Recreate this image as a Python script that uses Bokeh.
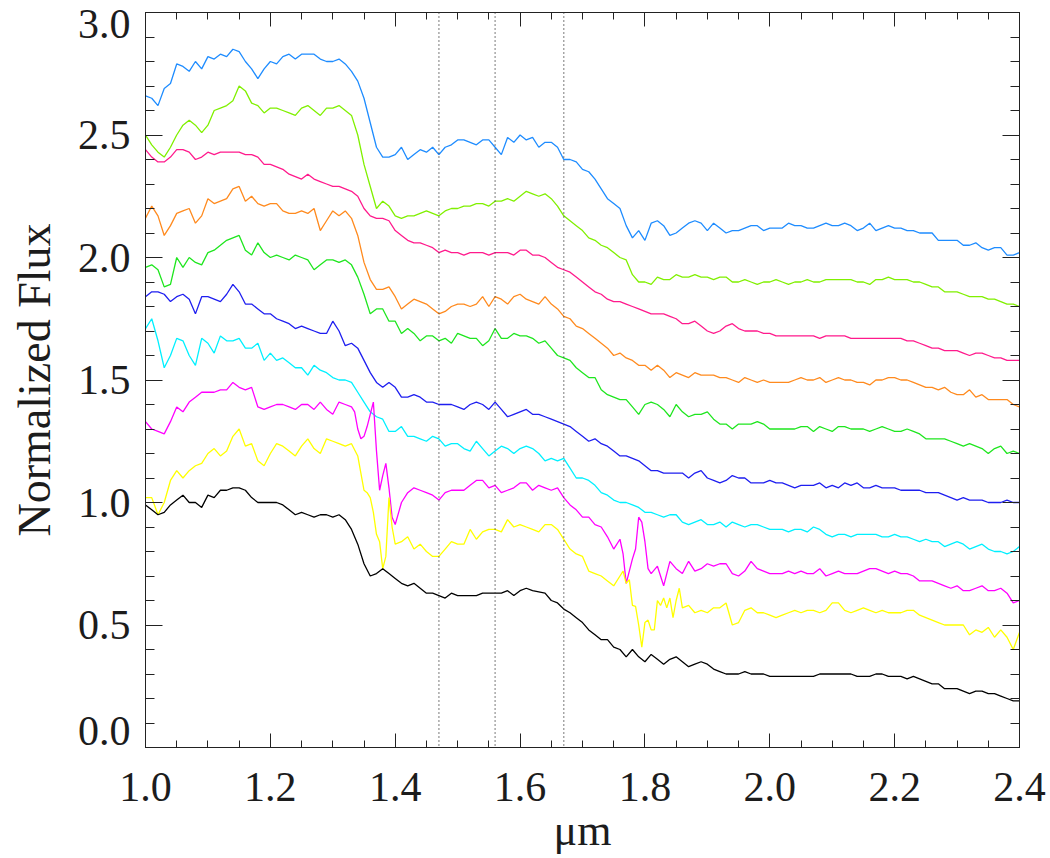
from bokeh.plotting import figure
from bokeh.models import (LinearAxis, FixedTicker, Span, Range1d,
                          ColumnDataSource, NumeralTickFormatter)
from bokeh.embed import file_html
from bokeh.resources import INLINE

# ---------------- data ----------------
wavelength = [round(1.0 + 0.01 * i, 2) for i in range(141)]

flux_dodgerblue = [
    2.66, 2.65, 2.62, 2.69, 2.71, 2.79, 2.78, 2.76, 2.80, 2.77,
    2.82, 2.81, 2.83, 2.82, 2.85, 2.84, 2.80, 2.77, 2.73, 2.77,
    2.80, 2.79, 2.82, 2.83, 2.81, 2.83, 2.83, 2.83, 2.81, 2.80,
    2.80, 2.81, 2.79, 2.76, 2.72, 2.65, 2.55, 2.45, 2.41, 2.41,
    2.42, 2.45, 2.40, 2.42, 2.44, 2.43, 2.45, 2.42, 2.45, 2.46,
    2.48, 2.48, 2.47, 2.46, 2.48, 2.48, 2.45, 2.42, 2.49, 2.47,
    2.50, 2.48, 2.49, 2.45, 2.47, 2.47, 2.45, 2.40, 2.40, 2.39,
    2.36, 2.35, 2.32, 2.28, 2.24, 2.22, 2.20, 2.13, 2.08, 2.11,
    2.07, 2.14, 2.15, 2.13, 2.09, 2.10, 2.12, 2.14, 2.15, 2.14,
    2.11, 2.14, 2.12, 2.10, 2.11, 2.11, 2.12, 2.13, 2.13, 2.11,
    2.12, 2.12, 2.12, 2.14, 2.13, 2.13, 2.12, 2.12, 2.13, 2.14,
    2.13, 2.13, 2.14, 2.13, 2.11, 2.12, 2.14, 2.11, 2.12, 2.13,
    2.12, 2.12, 2.11, 2.11, 2.10, 2.10, 2.10, 2.07, 2.07, 2.07,
    2.07, 2.05, 2.05, 2.06, 2.04, 2.03, 2.04, 2.04, 2.01, 2.01,
    2.02]

flux_chartreuse = [
    2.50, 2.46, 2.43, 2.41, 2.45, 2.50, 2.54, 2.56, 2.54, 2.51,
    2.54, 2.60, 2.61, 2.62, 2.64, 2.70, 2.68, 2.63, 2.62, 2.59,
    2.61, 2.61, 2.60, 2.59, 2.58, 2.61, 2.62, 2.60, 2.58, 2.61,
    2.61, 2.62, 2.60, 2.58, 2.50, 2.38, 2.29, 2.20, 2.23, 2.21,
    2.17, 2.16, 2.17, 2.17, 2.18, 2.19, 2.18, 2.17, 2.19, 2.20,
    2.20, 2.21, 2.21, 2.22, 2.22, 2.21, 2.23, 2.23, 2.24, 2.23,
    2.25, 2.27, 2.26, 2.25, 2.26, 2.24, 2.21, 2.17, 2.15, 2.13,
    2.11, 2.08, 2.07, 2.05, 2.04, 2.02, 2.00, 1.99, 1.93, 1.90,
    1.90, 1.89, 1.92, 1.91, 1.91, 1.93, 1.92, 1.92, 1.93, 1.92,
    1.92, 1.91, 1.92, 1.92, 1.90, 1.90, 1.91, 1.90, 1.89, 1.90,
    1.90, 1.91, 1.90, 1.89, 1.90, 1.90, 1.91, 1.90, 1.90, 1.91,
    1.91, 1.91, 1.91, 1.91, 1.90, 1.90, 1.89, 1.91, 1.91, 1.92,
    1.91, 1.91, 1.91, 1.90, 1.90, 1.89, 1.88, 1.88, 1.86, 1.86,
    1.86, 1.85, 1.84, 1.84, 1.84, 1.83, 1.83, 1.82, 1.81, 1.81,
    1.80]

flux_deeppink = [
    2.44, 2.41, 2.39, 2.39, 2.41, 2.44, 2.44, 2.43, 2.40, 2.41,
    2.43, 2.42, 2.43, 2.43, 2.43, 2.43, 2.42, 2.42, 2.41, 2.38,
    2.38, 2.37, 2.36, 2.34, 2.33, 2.32, 2.34, 2.32, 2.31, 2.30,
    2.29, 2.29, 2.28, 2.27, 2.25, 2.20, 2.17, 2.16, 2.16, 2.15,
    2.11, 2.09, 2.07, 2.06, 2.06, 2.05, 2.04, 2.02, 2.03, 2.02,
    2.02, 2.01, 2.02, 2.02, 2.02, 2.01, 2.02, 2.02, 2.02, 2.01,
    2.03, 2.03, 2.01, 2.01, 2.00, 1.98, 1.96, 1.95, 1.94, 1.92,
    1.90, 1.88, 1.86, 1.85, 1.83, 1.82, 1.82, 1.81, 1.80, 1.79,
    1.78, 1.77, 1.77, 1.77, 1.76, 1.75, 1.73, 1.73, 1.74, 1.72,
    1.70, 1.69, 1.70, 1.72, 1.73, 1.71, 1.70, 1.70, 1.70, 1.69,
    1.69, 1.68, 1.68, 1.68, 1.68, 1.68, 1.68, 1.68, 1.67, 1.68,
    1.68, 1.68, 1.68, 1.67, 1.67, 1.67, 1.67, 1.67, 1.67, 1.67,
    1.67, 1.67, 1.66, 1.66, 1.65, 1.64, 1.63, 1.63, 1.62, 1.62,
    1.62, 1.61, 1.60, 1.61, 1.61, 1.60, 1.59, 1.59, 1.58, 1.58,
    1.58]

flux_orange = [
    2.16, 2.21, 2.17, 2.09, 2.13, 2.18, 2.19, 2.20, 2.14, 2.17,
    2.24, 2.22, 2.23, 2.24, 2.28, 2.29, 2.23, 2.25, 2.22, 2.21,
    2.22, 2.22, 2.19, 2.18, 2.18, 2.19, 2.18, 2.20, 2.11, 2.15,
    2.19, 2.17, 2.19, 2.16, 2.09, 1.98, 1.91, 1.87, 1.87, 1.88,
    1.84, 1.79, 1.81, 1.83, 1.82, 1.81, 1.79, 1.77, 1.78, 1.80,
    1.81, 1.81, 1.80, 1.81, 1.84, 1.80, 1.84, 1.83, 1.81, 1.84,
    1.85, 1.83, 1.82, 1.81, 1.84, 1.81, 1.79, 1.76, 1.75, 1.72,
    1.71, 1.69, 1.67, 1.65, 1.63, 1.60, 1.61, 1.59, 1.58, 1.56,
    1.56, 1.54, 1.56, 1.54, 1.51, 1.53, 1.52, 1.51, 1.53, 1.52,
    1.52, 1.52, 1.51, 1.51, 1.50, 1.49, 1.51, 1.50, 1.49, 1.50,
    1.49, 1.49, 1.49, 1.49, 1.50, 1.51, 1.50, 1.50, 1.51, 1.49,
    1.50, 1.51, 1.50, 1.50, 1.49, 1.49, 1.48, 1.50, 1.50, 1.51,
    1.51, 1.50, 1.50, 1.49, 1.48, 1.47, 1.47, 1.46, 1.47, 1.45,
    1.44, 1.44, 1.46, 1.43, 1.44, 1.42, 1.42, 1.42, 1.42, 1.40,
    1.39]

flux_green = [
    1.96, 1.97, 1.95, 1.88, 1.89, 2.00, 1.96, 2.00, 1.98, 1.97,
    2.02, 2.03, 2.05, 2.07, 2.08, 2.09, 2.03, 2.01, 2.06, 2.02,
    2.00, 2.01, 2.00, 1.99, 2.01, 2.00, 1.99, 1.95, 1.97, 1.99,
    1.99, 1.98, 1.99, 1.97, 1.92, 1.85, 1.77, 1.79, 1.79, 1.74,
    1.74, 1.69, 1.71, 1.69, 1.66, 1.68, 1.68, 1.66, 1.67, 1.65,
    1.69, 1.68, 1.67, 1.67, 1.64, 1.66, 1.71, 1.67, 1.67, 1.69,
    1.68, 1.68, 1.67, 1.65, 1.66, 1.63, 1.60, 1.59, 1.58, 1.55,
    1.53, 1.51, 1.51, 1.46, 1.44, 1.43, 1.42, 1.42, 1.39, 1.36,
    1.40, 1.41, 1.40, 1.38, 1.35, 1.40, 1.37, 1.35, 1.36, 1.36,
    1.37, 1.34, 1.32, 1.32, 1.30, 1.32, 1.32, 1.32, 1.33, 1.32,
    1.30, 1.30, 1.30, 1.30, 1.30, 1.31, 1.31, 1.29, 1.31, 1.30,
    1.29, 1.31, 1.31, 1.30, 1.30, 1.30, 1.29, 1.30, 1.31, 1.30,
    1.29, 1.29, 1.30, 1.29, 1.28, 1.26, 1.26, 1.26, 1.26, 1.25,
    1.24, 1.23, 1.24, 1.23, 1.22, 1.20, 1.22, 1.23, 1.20, 1.21,
    1.20]

flux_blue = [
    1.84, 1.86, 1.86, 1.85, 1.82, 1.84, 1.85, 1.83, 1.77, 1.84,
    1.84, 1.83, 1.82, 1.85, 1.89, 1.86, 1.81, 1.81, 1.79, 1.77,
    1.77, 1.75, 1.74, 1.73, 1.71, 1.72, 1.71, 1.70, 1.69, 1.69,
    1.74, 1.70, 1.64, 1.65, 1.63, 1.58, 1.53, 1.49, 1.47, 1.49,
    1.47, 1.43, 1.43, 1.44, 1.43, 1.41, 1.41, 1.40, 1.40, 1.40,
    1.39, 1.38, 1.40, 1.41, 1.40, 1.38, 1.41, 1.38, 1.35, 1.36,
    1.37, 1.38, 1.36, 1.36, 1.35, 1.34, 1.33, 1.32, 1.31, 1.29,
    1.27, 1.25, 1.26, 1.24, 1.23, 1.21, 1.19, 1.19, 1.18, 1.17,
    1.15, 1.13, 1.13, 1.12, 1.12, 1.12, 1.12, 1.10, 1.12, 1.13,
    1.10, 1.09, 1.08, 1.09, 1.11, 1.10, 1.10, 1.08, 1.08, 1.08,
    1.09, 1.08, 1.08, 1.07, 1.06, 1.07, 1.07, 1.07, 1.08, 1.06,
    1.07, 1.06, 1.08, 1.07, 1.08, 1.06, 1.06, 1.07, 1.06, 1.06,
    1.06, 1.05, 1.05, 1.05, 1.05, 1.04, 1.04, 1.04, 1.03, 1.02,
    1.01, 1.02, 1.01, 1.01, 1.01, 1.00, 1.00, 1.00, 1.01, 1.00,
    1.00]

flux_cyan = [
    1.71, 1.75, 1.66, 1.55, 1.60, 1.67, 1.66, 1.60, 1.56, 1.67,
    1.65, 1.61, 1.68, 1.66, 1.66, 1.67, 1.63, 1.63, 1.65, 1.58,
    1.61, 1.58, 1.59, 1.57, 1.55, 1.55, 1.52, 1.56, 1.54, 1.53,
    1.51, 1.50, 1.50, 1.49, 1.45, 1.41, 1.37, 1.35, 1.34, 1.29,
    1.29, 1.31, 1.27, 1.27, 1.26, 1.25, 1.27, 1.26, 1.23, 1.24,
    1.24, 1.22, 1.21, 1.25, 1.22, 1.19, 1.21, 1.23, 1.22, 1.20,
    1.22, 1.23, 1.22, 1.20, 1.17, 1.18, 1.17, 1.18, 1.14, 1.10,
    1.10, 1.09, 1.07, 1.04, 1.03, 1.01, 1.00, 1.00, 0.99, 0.98,
    0.96, 0.96, 0.95, 0.94, 0.95, 0.95, 0.92, 0.91, 0.92, 0.93,
    0.91, 0.91, 0.92, 0.90, 0.92, 0.91, 0.90, 0.91, 0.91, 0.90,
    0.89, 0.89, 0.89, 0.88, 0.89, 0.89, 0.88, 0.90, 0.89, 0.87,
    0.86, 0.87, 0.87, 0.86, 0.87, 0.87, 0.87, 0.87, 0.86, 0.86,
    0.87, 0.86, 0.86, 0.85, 0.84, 0.85, 0.84, 0.84, 0.82, 0.83,
    0.84, 0.83, 0.81, 0.82, 0.83, 0.81, 0.80, 0.80, 0.79, 0.80,
    0.82]

flux_magenta = [
    1.33, 1.30, 1.29, 1.28, 1.33, 1.39, 1.37, 1.41, 1.43, 1.45,
    1.45, 1.45, 1.46, 1.46, 1.49, 1.47, 1.46, 1.47, 1.39, 1.38,
    1.39, 1.40, 1.40, 1.39, 1.38, 1.40, 1.40, 1.38, 1.41, 1.38,
    1.36, 1.41, 1.40, 1.39, 1.30, 1.27, 1.36, 1.21, 1.11, 1.06,
    0.91, 1.00, 1.04, 1.06, 1.05, 1.04, 1.03, 1.01, 1.04, 1.05,
    1.05, 1.05, 1.07, 1.09, 1.09, 1.06, 1.07, 1.04, 1.05, 1.06,
    1.08, 1.08, 1.05, 1.07, 1.06, 1.05, 1.06, 1.02, 0.99, 0.97,
    0.94, 0.94, 0.91, 0.90, 0.86, 0.81, 0.85, 0.67, 0.77, 0.94,
    0.84, 0.71, 0.74, 0.66, 0.76, 0.73, 0.71, 0.76, 0.72, 0.73,
    0.75, 0.74, 0.75, 0.75, 0.71, 0.70, 0.72, 0.76, 0.73, 0.72,
    0.71, 0.71, 0.71, 0.72, 0.71, 0.72, 0.71, 0.71, 0.73, 0.70,
    0.71, 0.72, 0.71, 0.71, 0.71, 0.72, 0.73, 0.73, 0.72, 0.71,
    0.72, 0.71, 0.71, 0.70, 0.68, 0.68, 0.68, 0.67, 0.66, 0.65,
    0.66, 0.64, 0.64, 0.65, 0.66, 0.64, 0.64, 0.65, 0.63, 0.59,
    0.60]
magenta_detail_wavelength = [1.335, 1.345, 1.355, 1.365, 1.375, 1.385, 1.395,
                             1.765, 1.775, 1.785, 1.795, 1.805]
magenta_detail_flux = [1.37, 1.26, 1.31, 1.41, 1.05, 1.16, 0.94,
                       0.79, 0.72, 0.81, 0.92, 0.73]

flux_yellow = [
    1.02, 1.02, 0.95, 1.00, 1.09, 1.13, 1.10, 1.13, 1.15, 1.16,
    1.20, 1.22, 1.19, 1.21, 1.27, 1.30, 1.23, 1.24, 1.17, 1.15,
    1.20, 1.24, 1.23, 1.21, 1.19, 1.23, 1.26, 1.22, 1.20, 1.26,
    1.25, 1.24, 1.23, 1.24, 1.19, 1.05, 1.02, 0.87, 0.73, 1.02,
    0.83, 0.84, 0.86, 0.81, 0.83, 0.80, 0.78, 0.78, 0.81, 0.84,
    0.83, 0.83, 0.89, 0.85, 0.88, 0.89, 0.89, 0.88, 0.93, 0.90,
    0.91, 0.90, 0.89, 0.88, 0.91, 0.91, 0.89, 0.85, 0.81, 0.79,
    0.78, 0.72, 0.71, 0.70, 0.68, 0.66, 0.70, 0.67, 0.58, 0.50,
    0.51, 0.48, 0.60, 0.61, 0.61, 0.60, 0.57, 0.58, 0.55, 0.56,
    0.55, 0.57, 0.57, 0.59, 0.50, 0.51, 0.56, 0.57, 0.55, 0.55,
    0.54, 0.53, 0.54, 0.55, 0.56, 0.55, 0.56, 0.56, 0.55, 0.56,
    0.59, 0.59, 0.56, 0.55, 0.56, 0.57, 0.56, 0.55, 0.56, 0.55,
    0.55, 0.55, 0.56, 0.56, 0.54, 0.53, 0.52, 0.51, 0.50, 0.50,
    0.50, 0.50, 0.46, 0.48, 0.47, 0.49, 0.45, 0.48, 0.45, 0.40,
    0.47]
yellow_detail_wavelength = [1.345, 1.355, 1.365, 1.375, 1.385, 1.395,
                            1.765, 1.775, 1.785, 1.795, 1.805, 1.815,
                            1.825, 1.835, 1.845, 1.855]
yellow_detail_flux = [1.12, 1.04, 0.96, 0.84, 0.78, 0.90,
                      0.72, 0.685, 0.576, 0.41, 0.52, 0.48,
                      0.58, 0.57, 0.53, 0.65]

flux_black = [
    0.99, 0.97, 0.95, 0.96, 0.99, 1.01, 1.03, 1.00, 1.00, 0.98,
    1.03, 1.02, 1.05, 1.05, 1.06, 1.06, 1.05, 1.02, 1.00, 1.00,
    1.00, 1.00, 0.99, 0.97, 0.95, 0.96, 0.95, 0.94, 0.95, 0.95,
    0.94, 0.95, 0.93, 0.89, 0.83, 0.75, 0.70, 0.71, 0.73, 0.71,
    0.69, 0.67, 0.66, 0.67, 0.65, 0.63, 0.63, 0.62, 0.61, 0.63,
    0.62, 0.62, 0.62, 0.62, 0.63, 0.63, 0.63, 0.63, 0.64, 0.62,
    0.64, 0.65, 0.64, 0.635, 0.63, 0.60, 0.59, 0.565, 0.55, 0.53,
    0.51, 0.48, 0.46, 0.44, 0.44, 0.41, 0.40, 0.37, 0.40, 0.37,
    0.35, 0.38, 0.36, 0.34, 0.36, 0.37, 0.35, 0.33, 0.34, 0.35,
    0.34, 0.32, 0.31, 0.30, 0.30, 0.30, 0.31, 0.30, 0.30, 0.30,
    0.29, 0.29, 0.29, 0.29, 0.29, 0.29, 0.29, 0.29, 0.30, 0.30,
    0.30, 0.30, 0.30, 0.30, 0.29, 0.29, 0.29, 0.30, 0.30, 0.29,
    0.29, 0.29, 0.28, 0.29, 0.28, 0.27, 0.26, 0.26, 0.24, 0.24,
    0.24, 0.23, 0.22, 0.23, 0.23, 0.22, 0.22, 0.21, 0.20, 0.19,
    0.19]

feature_lines = [1.47, 1.56, 1.67]

x_major_ticks = [1.0, 1.2, 1.4, 1.6, 1.8, 2.0, 2.2, 2.4]
y_major_ticks = [0.0, 0.5, 1.0, 1.5, 2.0, 2.5, 3.0]
x_minor_ticks = [round(1.0 + 0.05 * i, 2) for i in range(29)]
y_minor_ticks = [round(0.1 * i, 1) for i in range(31)]

# ---------------- figure ----------------
FONT = "Liberation Serif"
TXT = "#1c1c1c"
AX = "#222222"

p = figure(width=1050, height=858,
           x_range=Range1d(1.0, 2.4), y_range=Range1d(0.0, 3.0),
           x_axis_location=None, y_axis_location=None,
           output_backend="svg", toolbar_location=None,
           min_border_left=145, min_border_right=31,
           min_border_top=12, min_border_bottom=111)
p.grid.visible = False
p.outline_line_color = AX
p.background_fill_color = "white"
p.border_fill_color = "white"


def merge(base_x, base_y, extra_x=None, extra_y=None):
    pts = list(zip(base_x, base_y))
    if extra_x:
        pts += list(zip(extra_x, extra_y))
    pts.sort(key=lambda t: t[0])
    return [a for a, _ in pts], [b for _, b in pts]


series = [
    (flux_dodgerblue, "#1E8CFF", None, None),
    (flux_chartreuse, "#80F000", None, None),
    (flux_deeppink, "#FF1A8C", None, None),
    (flux_orange, "#FF8A1E", None, None),
    (flux_green, "#1EE61E", None, None),
    (flux_blue, "#1E1EF0", None, None),
    (flux_cyan, "#00F0FF", None, None),
    (flux_magenta, "#FF00FF", magenta_detail_wavelength, magenta_detail_flux),
    (flux_yellow, "#FFFF00", yellow_detail_wavelength, yellow_detail_flux),
    (flux_black, "#000000", None, None),
]

for flux, color, ex, ey in series:
    xs, ys = merge(wavelength, flux, ex, ey)
    src = ColumnDataSource(dict(x=xs, y=ys))
    p.line("x", "y", source=src, line_color=color, line_width=1.3)

for loc in feature_lines:
    p.add_layout(Span(location=loc, dimension="height", line_color="#333333",
                      line_dash="1 3", line_width=1.3))


def style_axis(ax, tick_in, minor_in, labels=True):
    ax.axis_line_color = AX
    ax.axis_line_width = 1
    ax.major_tick_in = tick_in
    ax.major_tick_out = 0
    ax.minor_tick_in = minor_in
    ax.minor_tick_out = 0
    ax.major_tick_line_color = AX
    ax.minor_tick_line_color = AX
    ax.formatter = NumeralTickFormatter(format="0.0")
    if labels:
        ax.major_label_text_font = FONT
        ax.major_label_text_font_size = "42px"
        ax.major_label_text_color = TXT
    else:
        ax.major_label_text_font_size = "0px"
        ax.major_label_text_color = None
        ax.major_label_standoff = 0


def xticker():
    return FixedTicker(ticks=x_major_ticks, minor_ticks=x_minor_ticks)


def yticker():
    return FixedTicker(ticks=y_major_ticks, minor_ticks=y_minor_ticks)


xb = LinearAxis(ticker=xticker())
style_axis(xb, 14, 7)
xb.major_label_standoff = 25
xb.axis_label = "μm"
xb.axis_label_text_font = FONT
xb.axis_label_text_font_size = "44px"
xb.axis_label_text_font_style = "normal"
xb.axis_label_text_color = TXT
xb.axis_label_standoff = 2
p.add_layout(xb, "below")

xt = LinearAxis(ticker=xticker())
style_axis(xt, 14, 7, labels=False)
p.add_layout(xt, "above")

yl = LinearAxis(ticker=yticker())
style_axis(yl, 17, 9)
yl.major_label_standoff = 15
yl.major_label_text_line_height = 0.72
# the bottom end label sits inside the axis span, as in the original
yl.major_label_overrides = {0: "0.0\n "}
yl.axis_label = "Normalized Flux"
yl.axis_label_text_font = FONT
yl.axis_label_text_font_size = "46px"
yl.axis_label_text_font_style = "normal"
yl.axis_label_text_color = TXT
yl.axis_label_standoff = 15
p.add_layout(yl, "left")

yr = LinearAxis(ticker=yticker())
style_axis(yr, 17, 9, labels=False)
p.add_layout(yr, "right")

open("out.html", "w").write(file_html(p, INLINE))
